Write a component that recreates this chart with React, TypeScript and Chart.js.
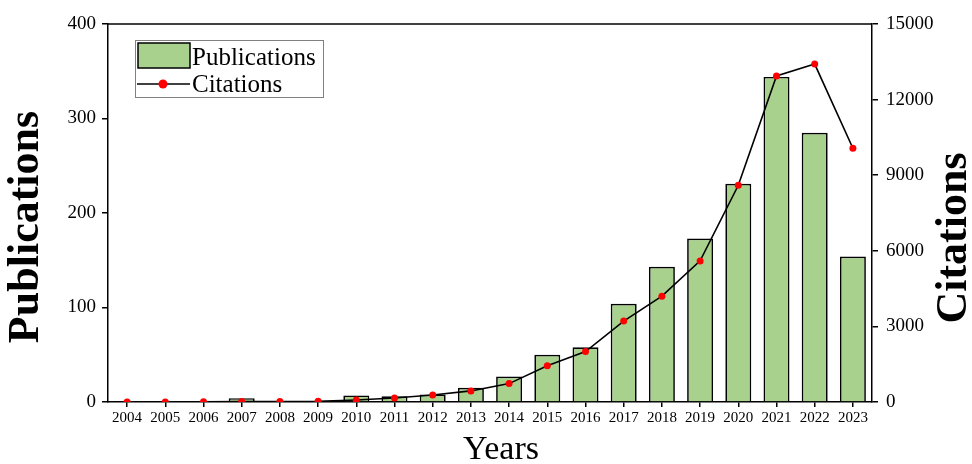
import React, { useEffect, useRef } from "react";
import { Chart, registerables } from "chart.js";

Chart.register(...registerables);

const years = ["2004","2005","2006","2007","2008","2009","2010","2011","2012","2013","2014","2015","2016","2017","2018","2019","2020","2021","2022","2023"];
const publications = [1, 0, 1, 4, 1, 1, 7, 6, 8, 15, 27, 50, 58, 104, 143, 173, 231, 344, 285, 154];
const citations = [0, 0, 5, 15, 20, 25, 80, 160, 280, 440, 730, 1440, 2000, 3210, 4200, 5600, 8600, 12940, 13410, 10070];
const leftTicks = [0, 100, 200, 300, 400];
const rightTicks = [0, 3000, 6000, 9000, 12000, 15000];

const SERIF = '"Liberation Serif", "Times New Roman", serif';
const GREEN = "#a9d18e";

const decorPlugin = {
  id: "decor",
  afterDraw(chart: any) {
    const { ctx, chartArea } = chart;
    ctx.save();
    // top border
    ctx.strokeStyle = "#000";
    ctx.lineWidth = 1.5;
    ctx.beginPath();
    ctx.moveTo(chartArea.left, chartArea.top);
    ctx.lineTo(chartArea.right, chartArea.top);
    ctx.stroke();

    // axis titles
    ctx.fillStyle = "#000";
    ctx.textAlign = "center";
    ctx.textBaseline = "middle";
    ctx.font = `bold 44px ${SERIF}`;
    ctx.save();
    ctx.translate(27, 227);
    ctx.rotate(-Math.PI / 2);
    ctx.fillText("Publications", 0, 0);
    ctx.restore();
    ctx.save();
    ctx.translate(955, 238);
    ctx.rotate(-Math.PI / 2);
    ctx.fillText("Citations", 0, 0);
    ctx.restore();
    ctx.font = `34px ${SERIF}`;
    ctx.fillText("Years", 501, 450);

    // legend
    ctx.fillStyle = "#fff";
    ctx.fillRect(135, 40, 188, 57);
    ctx.strokeStyle = "#808080";
    ctx.lineWidth = 1;
    ctx.strokeRect(135.5, 40.5, 188, 57);
    ctx.fillStyle = GREEN;
    ctx.fillRect(138, 43, 52, 25);
    ctx.strokeStyle = "#000";
    ctx.lineWidth = 1.5;
    ctx.strokeRect(138, 43, 52, 25);
    ctx.beginPath();
    ctx.moveTo(137, 84);
    ctx.lineTo(190, 84);
    ctx.stroke();
    ctx.fillStyle = "#ff0000";
    ctx.beginPath();
    ctx.arc(163, 84, 4.5, 0, Math.PI * 2);
    ctx.fill();
    ctx.fillStyle = "#000";
    ctx.textAlign = "left";
    ctx.textBaseline = "alphabetic";
    ctx.font = `25px ${SERIF}`;
    ctx.fillText("Publications", 192, 65);
    ctx.fillText("Citations", 192, 92);
    ctx.restore();
  },
};

export default function App() {
  const ref = useRef<HTMLCanvasElement>(null);
  useEffect(() => {
    if (!ref.current) return;
    const chart = new Chart(ref.current, {
      type: "bar",
      data: {
        labels: years,
        datasets: [
          {
            type: "line",
            label: "Citations",
            data: citations,
            yAxisID: "y1",
            borderColor: "#000",
            borderWidth: 1.6,
            pointBackgroundColor: "#ff0000",
            pointBorderWidth: 0,
            pointRadius: 3.5,
            tension: 0,
            order: 0,
          } as any,
          {
            type: "bar",
            label: "Publications",
            data: publications,
            yAxisID: "y",
            backgroundColor: GREEN,
            borderColor: "#000",
            borderWidth: 1.7,
            barPercentage: 0.68,
            categoryPercentage: 1,
            order: 1,
          },
        ],
      },
      options: {
        animation: false,
        responsive: true,
        maintainAspectRatio: false,
        layout: { padding: { top: 24, left: 0, right: 0, bottom: 0 } },
        plugins: { legend: { display: false }, tooltip: { enabled: false } },
        scales: {
          x: {
            offset: true,
            grid: { display: true, drawOnChartArea: false, offset: false, tickLength: 5, color: "#000", lineWidth: 1.5 },
            border: { display: true, color: "#000", width: 1.5 },
            ticks: { color: "#000", font: { family: SERIF, size: 15 }, maxRotation: 0, autoSkip: false, padding: 2 },
            afterFit: (s: any) => { s.height = 62; },
          },
          y: {
            position: "left",
            min: 0,
            max: 400,
            afterBuildTicks: (s: any) => { s.ticks = leftTicks.map((v) => ({ value: v })); },
            grid: { display: true, drawOnChartArea: false, tickLength: 6, color: "#000", lineWidth: 1.5 },
            border: { display: true, color: "#000", width: 1.5 },
            ticks: { color: "#000", font: { family: SERIF, size: 19 }, padding: 6, callback: (v: any) => String(v) },
            afterFit: (s: any) => { s.width = 108; },
          },
          y1: {
            position: "right",
            min: 0,
            max: 15000,
            afterBuildTicks: (s: any) => { s.ticks = rightTicks.map((v) => ({ value: v })); },
            grid: { display: true, drawOnChartArea: false, tickLength: 6, color: "#000", lineWidth: 1.5 },
            border: { display: true, color: "#000", width: 1.5 },
            ticks: { color: "#000", font: { family: SERIF, size: 19 }, padding: 8, callback: (v: any) => String(v) },
            afterFit: (s: any) => { s.width = 100; },
          },
        },
      },
      plugins: [decorPlugin],
    });
    return () => chart.destroy();
  }, []);
  return (
    <div style={{ position: "fixed", left: 0, top: 0, width: 972, height: 464, background: "#fff" }}>
      <canvas ref={ref} />
    </div>
  );
}
